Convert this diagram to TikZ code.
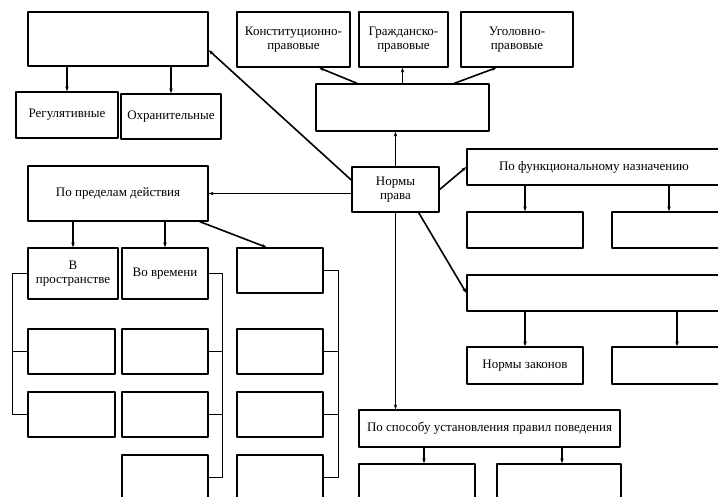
\documentclass[tikz,border=0pt]{standalone}
\usepackage{fontspec}
\setmainfont{Liberation Serif}
\usetikzlibrary{arrows.meta}
\tikzset{
	box/.style={draw, line width=1.3pt, inner sep=1pt, align=center},
	con/.style={line width=1.6pt}
}
\begin{document}
\begin{tikzpicture}[x=1pt, y=-1pt, font=\fontsize{13}{14.5}\selectfont, line join=round, >={Stealth[length=5pt,width=3.5pt]}]
		\useasboundingbox (0,0) rectangle (718,497);
		\clip (0,0) rectangle (718,497);
		% upper row
		\node[box, minimum width=180pt, minimum height=54pt] (vid) at (118,39) {};
		\node[box, minimum width=102pt, minimum height=46pt] (reg) at (67,115) {Регулятивные};
		\node[box, minimum width=100pt, minimum height=45pt] (ohr) at (171,116.5) {Охранительные};
		\node[box, minimum width=113pt, minimum height=55pt] (konst) at (293.5,39.5) {Конституционно-\\правовые};
		\node[box, minimum width=89pt, minimum height=55pt] (grazh) at (403.5,39.5) {Гражданско-\\правовые};
		\node[box, minimum width=112pt, minimum height=55pt] (ugol) at (517,39.5) {Уголовно-\\правовые};
		\node[box, minimum width=173pt, minimum height=47pt] (otr) at (402.5,107.5) {};
		\node[box, minimum width=87pt, minimum height=45pt] (norm) at (395.5,189.5) {Нормы\\права};
		% right side
		\node[box, minimum width=254pt, minimum height=36pt] (funk) at (594,167) {По функциональному назначению};
		\node[box, minimum width=116pt, minimum height=36pt] (f1) at (525,230) {};
		\node[box, minimum width=114pt, minimum height=36pt] (f2) at (669,230) {};
		\node[box, minimum width=263pt, minimum height=36pt] (sila) at (598.5,293) {};
		\node[box, minimum width=116pt, minimum height=37pt] (zak) at (525,365.5) {Нормы законов};
		\node[box, minimum width=130pt, minimum height=37pt] (podz) at (677,365.5) {};
		\node[box, minimum width=261pt, minimum height=37pt] (sposob) at (489.5,428.5) {По способу установления правил поведения};
		\node[box, minimum width=116pt, minimum height=56pt] (s1) at (417,492) {};
		\node[box, minimum width=124pt, minimum height=56pt] (s2) at (559,492) {};
		% left side
		\node[box, minimum width=180pt, minimum height=55pt] (pred) at (118,193.5) {По пределам действия};
		\node[box, minimum width=90pt, minimum height=51pt] (prostr) at (73,273.5) {В\\пространстве};
		\node[box, minimum width=86pt, minimum height=51pt] (vrem) at (165,273.5) {Во времени};
		\node[box, minimum width=86pt, minimum height=45pt] (lic) at (280,270.5) {};
		\foreach \y/\i in {351.5/2, 414.5/3}
			\node[box, minimum width=87pt, minimum height=45pt] (a\i) at (71.5,\y) {};
		\foreach \y/\i in {351.5/2, 414.5/3, 477.5/4}{
			\node[box, minimum width=86pt, minimum height=45pt] (b\i) at (165,\y) {};
			\node[box, minimum width=86pt, minimum height=45pt] (c\i) at (280,\y) {};
		}
		
		\draw[con,->] (norm.168) -- (vid.353);
		\draw[con,->] (norm.west |- pred) -- (pred.east);
		\draw[con,->] (norm.north) -- (norm.north |- otr.south);
		\draw[con,->] (norm.east) -- (funk.west);
		\draw[con,->] (norm.315) -- (sila.west);
		\draw[con,->] (norm.south) -- (norm.south |- sposob.north);
		
		\draw[con,->] (vid.south -| reg.north) -- (reg.north);
		\draw[con,->] (vid.south -| ohr.north) -- (ohr.north);
		\draw[con,->] (otr.152) -- (konst.312);
		\draw[con,->] (otr.north) -- (otr.north |- grazh.south);
		\draw[con,->] (otr.25) -- (ugol.234);
		
		\draw[con,->] (funk.south -| f1.north) -- (f1.north);
		\draw[con,->] (funk.south -| f2.north) -- (f2.north);
		\draw[con,->] (sila.south -| zak.north) -- (zak.north);
		\draw[con,->] (sila.south -| podz.north) -- (podz.north);
		\draw[con,->] ([xshift=7pt]sposob.south -| s1.north) -- ([xshift=7pt]s1.north);
		\draw[con,->] ([xshift=3pt]sposob.south -| s2.north) -- ([xshift=3pt]s2.north);
		
		\draw[con,->] (pred.south -| prostr.north) -- (prostr.north);
		\draw[con,->] (pred.south -| vrem.north) -- (vrem.north);
		\draw[con,->] (pred.341) -- (lic.120);
		
		\draw[con] (prostr.west) -- ++(-15,0) |- (a3.west);
		\draw[con] (a2.west) -- ++(-15,0);
		\draw[con] (vrem.east) -- ++(14,0) |- (b4.east);
		\draw[con] (b2.east) -- ++(14,0) (b3.east) -- ++(14,0);
		\draw[con] (lic.east) -- ++(15,0) |- (c4.east);
		\draw[con] (c2.east) -- ++(15,0) (c3.east) -- ++(15,0);
\end{tikzpicture}
\end{document}
